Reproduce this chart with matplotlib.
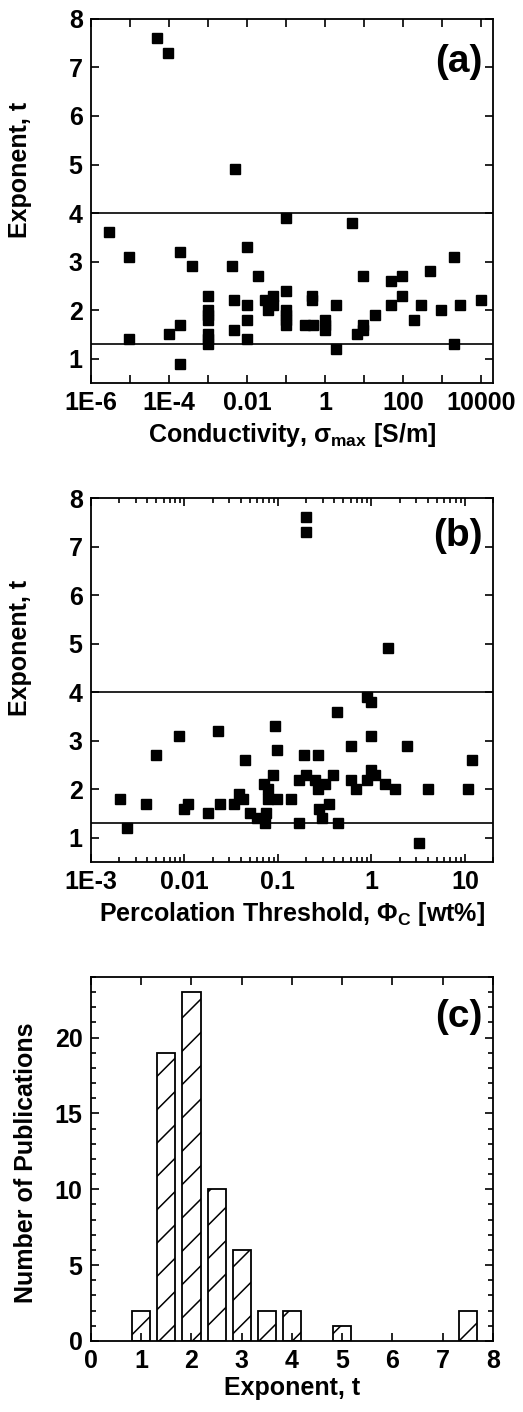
import matplotlib
matplotlib.use("Agg")
import matplotlib.pyplot as plt
from matplotlib.ticker import LogLocator, NullFormatter, NullLocator, MultipleLocator

plt.rcParams["font.family"] = ["Liberation Sans", "DejaVu Sans"]
plt.rcParams["font.weight"] = "bold"
plt.rcParams["axes.labelweight"] = "bold"
plt.rcParams["mathtext.fontset"] = "custom"
plt.rcParams["mathtext.rm"] = "Liberation Sans:bold"
plt.rcParams["mathtext.it"] = "Liberation Sans:bold"
plt.rcParams["mathtext.bf"] = "Liberation Sans:bold"
plt.rcParams["hatch.linewidth"] = 1.1

# (a) exponent t vs maximum conductivity [S/m]
sigma_max = [2.9e-6, 9.3e-6, 9.3e-6, 4.8e-5, 9.5e-5, 1e-4, 1.9e-4, 1.9e-4, 1.9e-4, 3.9e-4,
             1e-3, 1e-3, 1e-3, 1e-3, 1e-3, 1e-3, 1e-3,
             4.2e-3, 4.7e-3, 4.7e-3, 4.8e-3, 0.01, 0.01, 0.01, 0.01,
             0.019, 0.028, 0.047, 0.047, 0.035,
             0.098, 0.098, 0.098, 0.098, 0.098, 0.098,
             0.3, 0.5, 0.47, 0.47, 1.0, 1.0, 1.0, 1.9, 1.9, 4.8, 6.6, 9.3, 9.3, 9.3,
             19, 48, 48, 95, 95, 190, 290, 480, 930, 1950, 1950, 2900, 9800]
t_sigma = [3.6, 3.1, 1.4, 7.6, 7.3, 1.5, 3.2, 1.7, 0.9, 2.9,
           2.3, 2.0, 1.9, 1.8, 1.5, 1.4, 1.3,
           2.9, 2.2, 1.6, 4.9, 3.3, 2.1, 1.8, 1.4,
           2.7, 2.2, 2.3, 2.1, 2.0,
           3.9, 2.4, 2.0, 1.9, 1.8, 1.7,
           1.7, 1.7, 2.3, 2.2, 1.8, 1.7, 1.6, 2.1, 1.2, 3.8, 1.5, 2.7, 1.7, 1.6,
           1.9, 2.6, 2.1, 2.7, 2.3, 1.8, 2.1, 2.8, 2.0, 3.1, 1.3, 2.1, 2.2]

# (b) exponent t vs percolation threshold [wt%]
phi_c = [0.00204, 0.00245, 0.0039, 0.0049, 0.0087, 0.010, 0.011, 0.018, 0.023, 0.024,
         0.034, 0.038, 0.042, 0.044, 0.050, 0.060, 0.072, 0.071, 0.079, 0.079,
         0.089, 0.093, 0.098, 0.098, 0.075, 0.138, 0.17, 0.17, 0.19, 0.20,
         0.2, 0.2, 0.25, 0.27, 0.27, 0.275, 0.295, 0.32, 0.355, 0.39,
         0.43, 0.44, 0.6, 0.6, 0.69, 0.9, 0.9, 1.0, 1.0, 1.0,
         1.1, 1.4, 1.5, 1.8, 2.4, 3.2, 4.0, 10.7, 11.8]
t_phi = [1.8, 1.2, 1.7, 2.7, 3.1, 1.6, 1.7, 1.5, 3.2, 1.7,
         1.7, 1.9, 1.8, 2.6, 1.5, 1.4, 1.3, 2.1, 2.0, 1.8,
         2.3, 3.3, 2.8, 1.8, 1.5, 1.8, 1.3, 2.2, 2.7, 2.3,
         7.6, 7.3, 2.2, 2.0, 2.7, 1.6, 1.4, 2.1, 1.7, 2.3,
         3.6, 1.3, 2.9, 2.2, 2.0, 2.2, 3.9, 3.8, 3.1, 2.4,
         2.3, 2.1, 4.9, 2.0, 2.9, 0.9, 2.0, 2.0, 2.6]

# (c) number of publications per exponent bin
t_bins = [1.0, 1.5, 2.0, 2.5, 3.0, 3.5, 4.0, 5.0, 7.5]
n_pubs = [2, 19, 23, 10, 6, 2, 2, 1, 2]

# band of exponents
t_low, t_high = 1.3, 4.0

fig = plt.figure(figsize=(5.23, 14.12), dpi=100)
L, W, H = 0.174, 0.7686, 0.2578
ax_a = fig.add_axes([L, 0.7288, W, H])
ax_b = fig.add_axes([L, 0.3895, W, H])
ax_c = fig.add_axes([L, 0.0503, W, H])


def style(ax):
    for s in ax.spines.values():
        s.set_linewidth(1.3)
    ax.tick_params(which="both", direction="in", top=True, right=True,
                   labelsize=18, width=1.2, pad=6)
    ax.tick_params(which="major", length=6)
    ax.tick_params(which="minor", length=3.5)


# panel a
ax_a.plot(sigma_max, t_sigma, "s", color="black", ms=7)
ax_a.axhline(t_high, color="black", lw=1.2)
ax_a.axhline(t_low, color="black", lw=1.2)
ax_a.set_xscale("log")
ax_a.set_xlim(1e-6, 2e4)
ax_a.set_ylim(0.5, 8)
decades = [10.0 ** k for k in range(-6, 5)]
ax_a.set_xticks(decades)
ax_a.set_xticklabels(["1E-6", "", "1E-4", "", "0.01", "", "1", "", "100", "", "10000"])
ax_a.xaxis.set_minor_locator(NullLocator())
ax_a.set_yticks(range(1, 9))
style(ax_a)
ax_a.set_xlabel(r"Conductivity, $\sigma_{\rm max}$ [S/m]", fontsize=18, labelpad=4)
ax_a.set_ylabel("Exponent, t", fontsize=18)
ax_a.yaxis.set_label_coords(-0.147, 0.585)
ax_a.text(0.973, 0.882, "(a)", transform=ax_a.transAxes, fontsize=28,
          ha="right", va="center")

# panel b
ax_b.plot(phi_c, t_phi, "s", color="black", ms=7)
ax_b.axhline(t_high, color="black", lw=1.2)
ax_b.axhline(t_low, color="black", lw=1.2)
ax_b.set_xscale("log")
ax_b.set_xlim(1e-3, 20)
ax_b.set_ylim(0.5, 8)
ax_b.set_xticks([1e-3, 1e-2, 1e-1, 1, 10])
ax_b.set_xticklabels(["1E-3", "0.01", "0.1", "1", "10"])
ax_b.xaxis.set_minor_locator(LogLocator(base=10, subs=range(2, 10)))
ax_b.xaxis.set_minor_formatter(NullFormatter())
ax_b.set_yticks(range(1, 9))
style(ax_b)
ax_b.set_xlabel(r"Percolation Threshold, $\Phi_{\rm C}$ [wt%]", fontsize=18, labelpad=4)
ax_b.set_ylabel("Exponent, t", fontsize=18)
ax_b.yaxis.set_label_coords(-0.147, 0.588)
ax_b.text(0.973, 0.896, "(b)", transform=ax_b.transAxes, fontsize=28,
          ha="right", va="center")

# panel c
ax_c.bar(t_bins, n_pubs, width=0.36, color="white", edgecolor="black",
         linewidth=1.3, hatch="/")
ax_c.set_xlim(0, 8)
ax_c.set_ylim(0, 24)
ax_c.set_xticks(range(0, 9))
ax_c.yaxis.set_major_locator(MultipleLocator(5))
ax_c.yaxis.set_minor_locator(MultipleLocator(1))
style(ax_c)
ax_c.set_xlabel("Exponent, t", fontsize=18, labelpad=2)
ax_c.set_ylabel("Number of Publications", fontsize=18)
ax_c.yaxis.set_label_coords(-0.132, 0.49)
ax_c.text(0.973, 0.89, "(c)", transform=ax_c.transAxes, fontsize=28,
          ha="right", va="center")

fig.savefig("out.png", dpi=100)
